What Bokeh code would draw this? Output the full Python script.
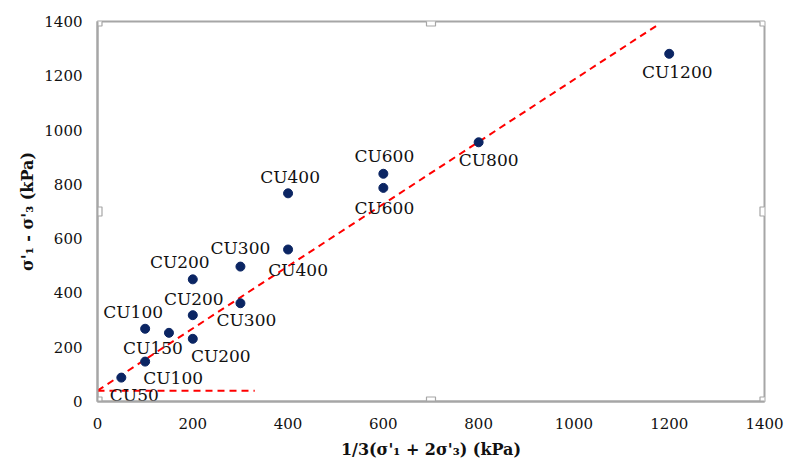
from bokeh.plotting import figure
from bokeh.models import ColumnDataSource, Range1d, FixedTicker
from bokeh.core.properties import value
from bokeh.embed import file_html
from bokeh.resources import INLINE

# Data
p_mean = [50, 100, 100, 150, 200, 200, 200, 300, 300, 400, 400, 600, 600, 800, 1200]
q_dev = [88, 147, 268, 253, 231, 318, 450, 362, 497, 560, 767, 839, 787, 955, 1281]
labels = ["CU50", "CU100", "CU100", "CU150", "CU200", "CU200", "CU200", "CU300",
          "CU300", "CU400", "CU400", "CU600", "CU600", "CU800", "CU1200"]
trend_x = [0, 1180]
trend_y = [40, 1392]
base_x = [0, 330]
base_y = [40, 40]
ticks = [0, 200, 400, 600, 800, 1000, 1200, 1400]
handle_x = [0, 700, 1400, 0, 1400, 0, 700, 1400]
handle_y = [0, 0, 0, 700, 700, 1400, 1400, 1400]

# label placement (pixels)
lab_dx = [13, 28, -12, -16, 28, 1, -13, 6, 0, 10, 2, 1, 1, 10, 8]
lab_dy = [17, 16, -17, 15, 17, -16, -17, 17, -19, 20, -16, -18, 20, 18, 18]

FONT = "DejaVu Serif"
GRAY = "#a6a6a6"

p = figure(width=785, height=462, output_backend="svg", toolbar_location=None,
           x_range=Range1d(0, 1400), y_range=Range1d(0, 1400),
           min_border_left=97, min_border_right=21, min_border_top=21, min_border_bottom=61)
p.grid.visible = False
p.outline_line_color = GRAY
p.outline_line_width = 2
p.background_fill_color = "white"
p.border_fill_color = "white"

for ax in (p.xaxis, p.yaxis):
    ax.ticker = FixedTicker(ticks=ticks)
    ax.axis_line_color = GRAY
    ax.axis_line_width = 2
    ax.major_tick_line_color = None
    ax.minor_tick_line_color = None
    ax.major_label_text_font = FONT
    ax.major_label_text_font_size = "15px"
    ax.major_label_text_color = "#111111"
    ax.axis_label_text_font = FONT
    ax.axis_label_text_font_size = "16px"
    ax.axis_label_text_font_style = "bold"
    ax.axis_label_text_color = "#111111"

p.xaxis.axis_label = "1/3(σ'₁ + 2σ'₃) (kPa)"
p.yaxis.axis_label = "σ'₁ - σ'₃ (kPa)"
p.xaxis.major_label_standoff = 10
p.yaxis.major_label_standoff = 9
p.xaxis.axis_label_standoff = 8
p.yaxis.axis_label_standoff = 4

p.line(trend_x, trend_y, line_color="#ff0000", line_width=2, line_dash="7 5")
p.line(base_x, base_y, line_color="#ff0000", line_width=2, line_dash="7 5")

src = ColumnDataSource(dict(x=p_mean, y=q_dev, lab=labels, dx=lab_dx, dy=lab_dy))
p.scatter("x", "y", source=src, size=9, fill_color="#0b2563", line_color="#0b2563")
p.text("x", "y", text="lab", source=src, x_offset="dx", y_offset="dy",
       text_align="center", text_baseline="middle", text_font=value(FONT),
       text_font_size="17px", text_color="#111111")

p.scatter(handle_x, handle_y, marker="square", size=9, fill_color="white",
          line_color=GRAY, line_width=1.2)

open("out.html", "w").write(file_html(p, INLINE))
